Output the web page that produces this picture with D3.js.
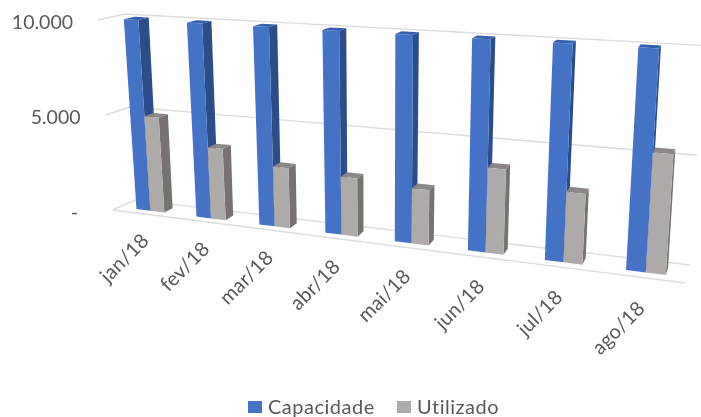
<!DOCTYPE html>
<html>
<head>
<meta charset="utf-8">
<script src="https://cdn.jsdelivr.net/npm/d3@7/dist/d3.min.js"></script>
<style>
  html, body { margin: 0; padding: 0; background: #fff; }
  svg { display: block; filter: blur(0.45px); }
  text { font-family: Lato, sans-serif; fill: #595959; }
</style>
</head>
<body>
<div id="chart"></div>
<script>
const categories = ["jan/18", "fev/18", "mar/18", "abr/18", "mai/18", "jun/18", "jul/18", "ago/18"];
const capacidade = [10000, 10000, 10000, 10000, 10000, 10000, 10000, 10000];
const utilizado = [4950, 3640, 3000, 2840, 2640, 3980, 3210, 5360];
const yTicks = [0, 5000, 10000];
const yTickLabels = ["-", "5.000", "10.000"];
const seriesNames = ["Capacidade", "Utilizado"];

const width = 701, height = 417;
const colors = {
  Capacidade: { front: "#4472c4", side: "#2b4d8a", top: "#3660ad" },
  Utilizado: { front: "#aeaaaa", side: "#767272", top: "#8b8787" }
};

// the 3D box of the plot, front/back and floor/top corners as seen on screen
const box = {
  floorFront: [[113, 210], [685, 283]],
  floorBack: [[135, 200], [690, 265]],
  topFront: [[98, 20], [701, 53]],
  topBack: [[125, 14], [704, 45.5]]
};
const perspective = 0.184;

const xBand = d3.scaleBand().domain(categories).range([0, 1]);
const yFrac = d3.scaleLinear().domain([0, 10000]).range([0, 1]);

function lerp(a, b, t) {
  return [a[0] + (b[0] - a[0]) * t, a[1] + (b[1] - a[1]) * t];
}

// s: 0..1 along the categories, v: value, w: 0 front .. 1 back
function project(s, v, w) {
  const t = s * (1 - perspective) / (1 - perspective * s);
  const f = yFrac(v);
  const front = lerp(lerp(box.floorFront[0], box.floorFront[1], t), lerp(box.topFront[0], box.topFront[1], t), f);
  const back = lerp(lerp(box.floorBack[0], box.floorBack[1], t), lerp(box.topBack[0], box.topBack[1], t), f);
  return lerp(front, back, w);
}

const svg = d3.select("#chart").append("svg").attr("width", width).attr("height", height);

// gridlines
const gridLine = d3.line();
const grid = svg.append("g").attr("fill", "none").attr("stroke", "#dcdcdc").attr("stroke-width", 1.4);
yTicks.forEach(v => {
  grid.append("path").attr("d", gridLine([project(0, v, 0), project(0, v, 1), project(1, v, 1)]));
});
grid.append("path").attr("d", gridLine([project(0, 0, 0), project(1, 0, 0)]));

// y labels follow the left wall
yTicks.forEach((v, i) => {
  const p = project(0, v, 0);
  svg.append("text")
    .attr("x", p[0] - (v === 0 ? 35 : 25))
    .attr("y", p[1] + 9)
    .attr("text-anchor", "end")
    .attr("font-size", 19.5)
    .text(yTickLabels[i]);
});

// bars
const barStart = 0.29, barWidth = 0.235, depthFront = 0.3, depthBack = 0.7;
const step = xBand.bandwidth();

function drawBar(s0, s1, v, c) {
  const poly = pts => pts.map(p => p.join(",")).join(" ");
  const g = svg.append("g");
  g.append("polygon").attr("fill", c.side).attr("points", poly([
    project(s1, 0, depthFront), project(s1, 0, depthBack), project(s1, v, depthBack), project(s1, v, depthFront)
  ]));
  g.append("polygon").attr("fill", c.top).attr("points", poly([
    project(s0, v, depthFront), project(s1, v, depthFront), project(s1, v, depthBack), project(s0, v, depthBack)
  ]));
  g.append("polygon").attr("fill", c.front).attr("points", poly([
    project(s0, 0, depthFront), project(s1, 0, depthFront), project(s1, v, depthFront), project(s0, v, depthFront)
  ]));
}

categories.forEach((cat, i) => {
  const s = xBand(cat);
  const s0 = s + barStart * step, s1 = s0 + barWidth * step, s2 = s1 + barWidth * step;
  drawBar(s0, s1, capacidade[i], colors.Capacidade);
  drawBar(s1, s2, utilizado[i], colors.Utilizado);

  // category labels
  const p = project(s + step / 2, -1200, 0);
  svg.append("text")
    .attr("transform", `translate(${p[0] + 6},${p[1] + 5}) rotate(-45)`)
    .attr("text-anchor", "end")
    .attr("font-size", 20)
    .attr("letter-spacing", 0.2)
    .text(cat);
});

// legend
const legendX = d3.scaleOrdinal().domain(seriesNames).range([248, 397]);
seriesNames.forEach(name => {
  const g = svg.append("g").attr("transform", `translate(${legendX(name)},401)`);
  g.append("rect").attr("width", 14).attr("height", 12).attr("fill", colors[name].front);
  g.append("text").attr("x", 20).attr("y", 12.5).attr("font-size", 20).attr("letter-spacing", 0.5).text(name);
});
</script>
</body>
</html>
